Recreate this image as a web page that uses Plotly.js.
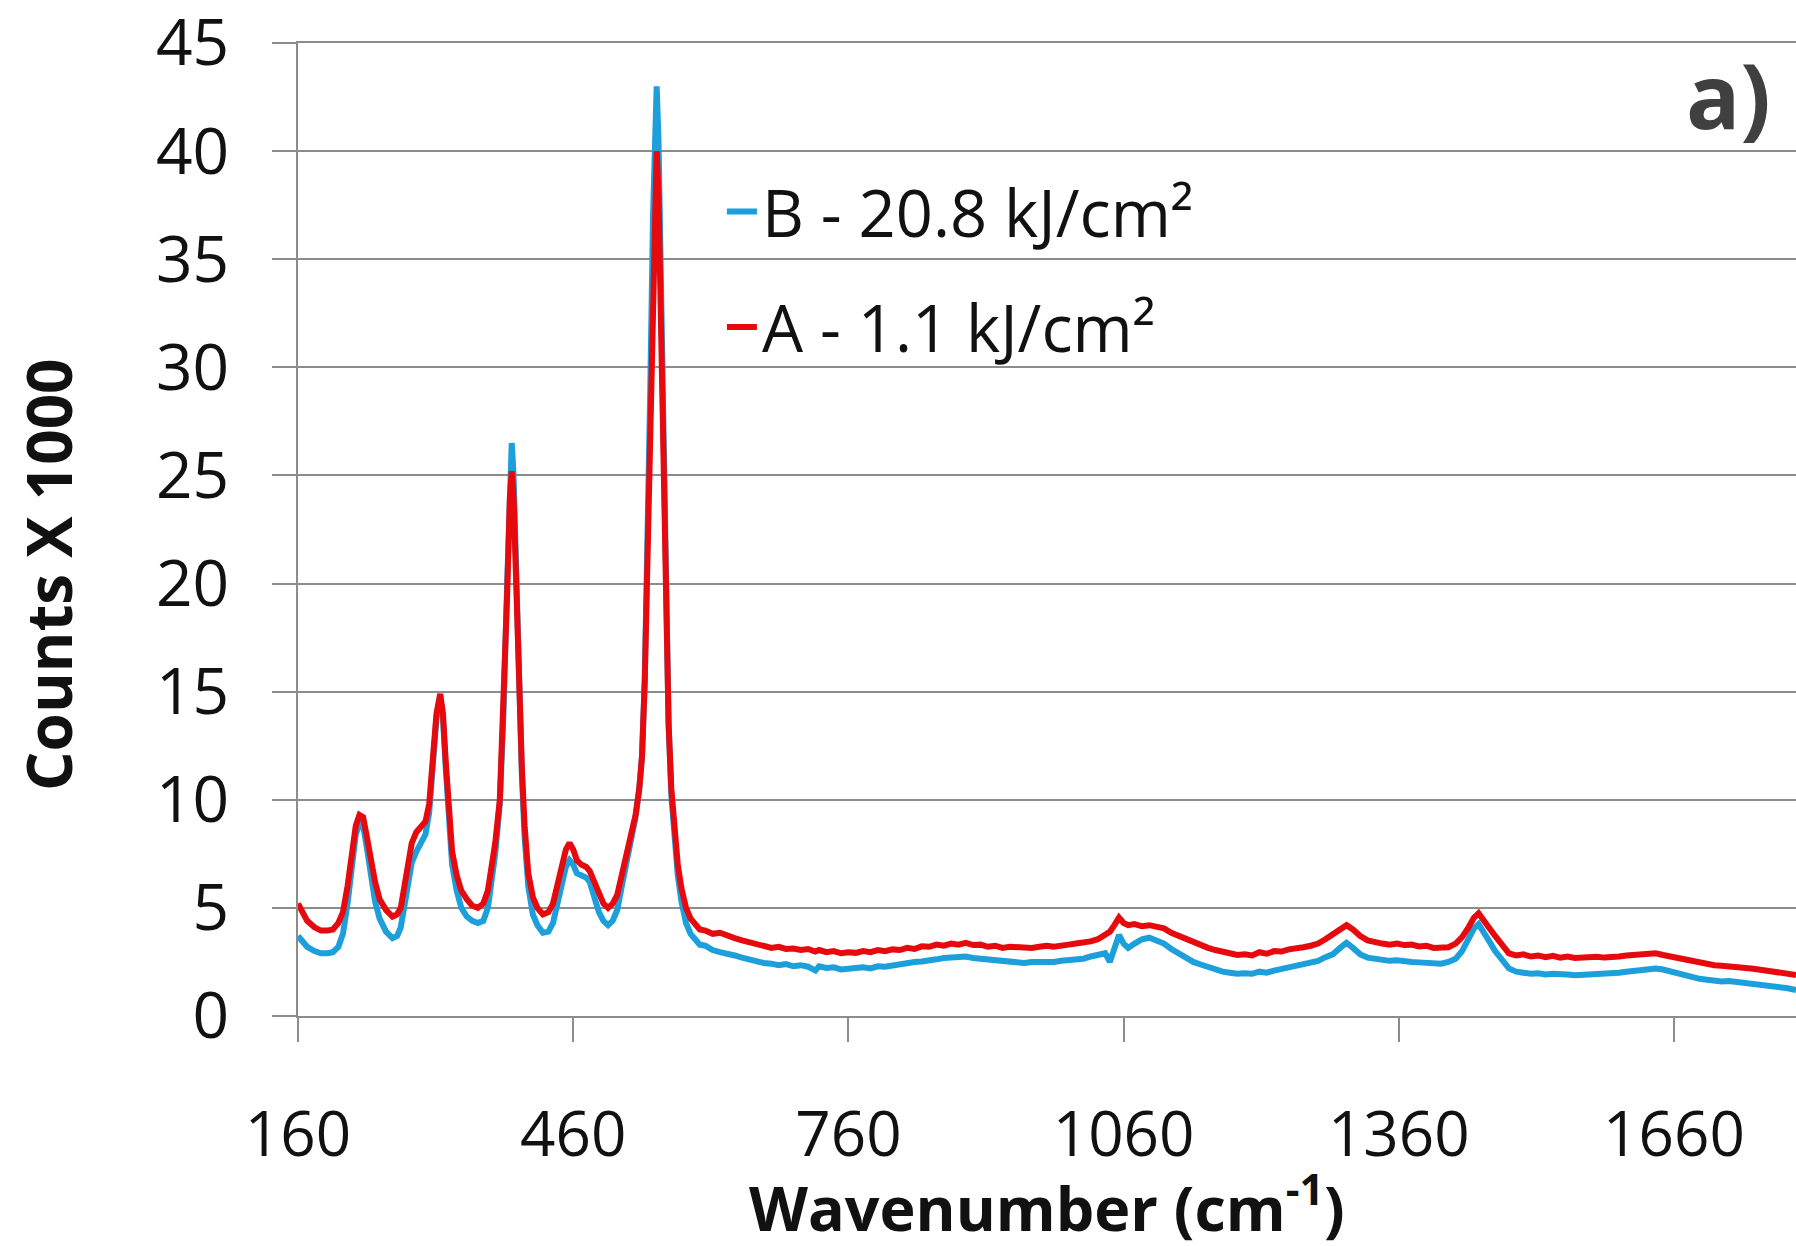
<!DOCTYPE html>
<html>
<head>
<meta charset="utf-8">
<script src="https://cdn.plot.ly/plotly-3.0.1.min.js"></script>
<style>html,body{margin:0;padding:0;background:#fff;}#chart{width:1796px;height:1246px;}</style>
</head>
<body>
<div id="chart"></div>
<script>
// Wavenumber (cm^-1)
const wavenumber = [160,165,170,178,185,192,198,204,209,214,218,223,227,231,235,239,244,249,256,263,268,272,276,280,284,289,294,299,303,307,311,315,318,321,324,328,333,338,344,350,356,362,367,371,375,380,384,388,391,393,395,398,401,404,407,411,416,421,427,433,438,443,448,452,456,460,464,469,474,478,483,488,493,498,503,508,513,518,523,528,532,535,538,541,544,547,549,551,553,555,558,561,564,567,570,574,578,583,588,593,598,
604,612,620,628,636,644,652,660,668,676,684,692,700,708,716,724,728,736,744,752,760,768,776,784,792,800,808,816,824,832,840,848,856,864,872,880,888,896,904,912,920,928,936,944,952,960,968,976,984,992,1000,1008,1016,1024,1032,1040,1045,1050,1055,1060,1065,1072,1080,1088,1096,1104,1112,1120,1128,1136,1144,1152,1160,1168,1176,1184,1192,1200,1208,1216,1224,1232,1240,1248,1256,1264,1272,1280,1288,1296,1303,1310,1318,1326,1334,1342,1350,1358,1366,1374,1382,1390,1398,1406,1414,1422,1429,1436,1442,1447,1452,1458,1465,1472,1480,1488,1496,1504,1512,1520,1528,1536,1544,1552,1560,1568,1576,1584,1592,1600,1608,1616,1624,1632,1640,1648,1656,1664,1672,1680,1688,1696,1704,1712,1720,1728,1736,1744,1752,1760,1768,1776,1784,1793];

// Series A - 1.1 kJ/cm2 (counts / 1000)
const seriesA = [5.2,4.8,4.4,4.1,3.95,3.95,4.0,4.3,4.8,6.0,7.4,8.8,9.3,9.2,8.3,7.2,6.2,5.4,4.9,4.6,4.7,5.0,6.0,7.0,8.0,8.5,8.8,9.0,9.8,11.8,14.0,14.9,14.0,11.8,9.5,7.6,6.5,5.8,5.4,5.1,5.0,5.2,5.8,6.8,8.0,10.0,14.0,19.5,24.0,25.2,24.0,19.3,15.0,11.5,8.8,6.6,5.5,5.0,4.7,4.8,5.2,6.0,7.0,7.7,8.0,7.7,7.2,7.0,6.9,6.7,6.2,5.6,5.2,5.0,5.2,5.6,6.5,7.3,8.2,9.3,10.5,12.0,15.5,21.0,28.0,35.0,38.5,40.0,38.0,33.0,25.0,18.0,13.5,10.5,8.6,7.0,5.9,5.0,4.5,4.2,4.0,
3.95,3.8,3.85,3.7,3.6,3.5,3.4,3.3,3.25,3.15,3.2,3.1,3.12,3.05,3.1,2.98,3.05,2.95,3.0,2.9,2.95,2.92,3.0,2.95,3.05,3.0,3.08,3.05,3.15,3.1,3.22,3.2,3.3,3.25,3.35,3.3,3.38,3.28,3.3,3.2,3.25,3.15,3.2,3.18,3.22,3.15,3.2,3.25,3.2,3.28,3.3,3.35,3.38,3.45,3.55,3.75,3.9,4.2,4.55,4.3,4.2,4.25,4.15,4.2,4.1,4.05,3.85,3.7,3.55,3.4,3.25,3.15,3.05,2.95,2.9,2.82,2.85,2.8,2.95,2.88,3.0,2.98,3.08,3.1,3.18,3.25,3.35,3.55,3.75,4.0,4.2,4.0,3.7,3.5,3.4,3.35,3.3,3.35,3.28,3.3,3.22,3.25,3.15,3.2,3.18,3.35,3.65,4.1,4.55,4.75,4.5,4.1,3.7,3.3,2.9,2.8,2.85,2.75,2.8,2.72,2.78,2.7,2.75,2.68,2.72,2.7,2.74,2.7,2.76,2.75,2.8,2.82,2.88,2.85,2.9,2.82,2.75,2.65,2.58,2.5,2.45,2.38,2.35,2.32,2.3,2.25,2.22,2.2,2.15,2.1,2.05,2.02,1.95,1.9];

// Series B - 20.8 kJ/cm2 (counts / 1000)
const seriesB = [3.7,3.4,3.2,3.0,2.9,2.9,2.95,3.2,3.8,5.2,6.8,8.4,8.9,8.8,7.8,6.5,5.3,4.5,3.9,3.6,3.7,4.1,5.2,6.3,7.1,7.6,8.0,8.4,9.4,11.5,13.8,14.8,13.8,11.5,9.0,7.0,5.8,5.0,4.6,4.4,4.3,4.4,5.0,6.2,7.5,9.8,14.0,20.0,25.0,26.5,25.0,19.5,15.0,11.2,8.3,6.0,4.7,4.2,3.85,3.9,4.3,5.2,6.3,6.9,7.2,7.0,6.6,6.5,6.4,6.2,5.5,4.8,4.4,4.2,4.4,4.9,6.0,7.0,8.0,9.2,10.5,12.0,15.5,21.5,29.0,37.0,41.0,43.0,40.5,35.0,26.0,18.5,13.5,10.2,8.2,6.5,5.3,4.3,3.8,3.5,3.3,
3.25,3.05,2.95,2.9,2.8,2.7,2.62,2.5,2.45,2.42,2.35,2.4,2.3,2.35,2.28,2.1,2.3,2.22,2.25,2.15,2.2,2.22,2.25,2.2,2.3,2.28,2.35,2.4,2.45,2.5,2.52,2.6,2.62,2.68,2.72,2.7,2.75,2.68,2.65,2.6,2.55,2.52,2.48,2.5,2.45,2.5,2.48,2.52,2.5,2.55,2.58,2.62,2.65,2.75,2.8,2.9,2.5,3.2,3.75,3.35,3.15,3.35,3.55,3.62,3.5,3.35,3.1,2.9,2.7,2.5,2.38,2.25,2.12,2.05,2.0,1.95,1.98,1.95,2.05,2.0,2.1,2.18,2.25,2.35,2.4,2.5,2.55,2.72,2.85,3.15,3.38,3.15,2.85,2.7,2.65,2.6,2.55,2.58,2.52,2.5,2.48,2.45,2.45,2.42,2.5,2.65,3.0,3.5,4.05,4.25,3.95,3.5,3.0,2.6,2.2,2.05,2.0,1.95,1.98,1.92,1.95,1.9,1.92,1.88,1.9,1.92,1.9,1.95,1.98,2.0,2.05,2.08,2.12,2.15,2.2,2.15,2.05,1.98,1.9,1.8,1.72,1.68,1.62,1.6,1.62,1.58,1.55,1.55,1.5,1.45,1.38,1.32,1.28,1.2];

const xTicks = [160, 460, 760, 1060, 1360, 1660];
const yTicks = [0, 5, 10, 15, 20, 25, 30, 35, 40, 45];
const nameB = 'B - 20.8 kJ/cm²';
const nameA = 'A - 1.1 kJ/cm²';

const FONT = 'Open Sans, Noto Sans, sans-serif';
const GRID = '#8c8c8c';

const traces = [
  {x: wavenumber, y: seriesB, type: 'scatter', mode: 'lines', name: nameB, legendgroup: 'b',
   line: {color: '#1c9fdb', width: 6}},
  {x: wavenumber, y: seriesA, type: 'scatter', mode: 'lines', name: nameA, legendgroup: 'a',
   line: {color: '#e60a0f', width: 6}}
];

const layout = {
  width: 1796, height: 1246,
  margin: {l: 298, r: 0, t: 43, b: 230, pad: 0},
  paper_bgcolor: '#ffffff', plot_bgcolor: '#ffffff',
  font: {family: FONT, color: '#111111'},
  showlegend: true,
  legend: {x: 0.283, xanchor: 'left', y: 0.877, yanchor: 'top',
           font: {family: FONT, size: 65, color: '#111111'},
           bgcolor: 'rgba(0,0,0,0)', tracegroupgap: 28, traceorder: 'grouped', itemwidth: 30},
  xaxis: {range: [160, 1793], tickvals: xTicks, ticktext: xTicks.map(String),
          ticks: 'outside', ticklen: 24, tickwidth: 2, tickcolor: GRID,
          showgrid: false, zeroline: false, showline: true, mirror: true,
          linecolor: GRID, linewidth: 2, ticklabelstandoff: 40, ticklabeloverflow: 'allow',
          tickfont: {family: FONT, size: 62, color: '#111111'}},
  yaxis: {range: [-0.0005, 45.0005], tickvals: yTicks, ticktext: yTicks.map(String),
          ticks: 'outside', ticklen: 24, tickwidth: 2, tickcolor: GRID,
          showgrid: true, gridcolor: GRID, gridwidth: 2, zeroline: false,
          showline: true, linecolor: GRID, linewidth: 2, ticklabelstandoff: 30,
          ticklabeloverflow: 'allow',
          tickfont: {family: FONT, size: 64, color: '#111111'}},
  annotations: [
    {text: '<b>Counts X 1000</b>', xref: 'paper', yref: 'paper', x: -0.1669, y: 0.4543,
     xanchor: 'center', yanchor: 'middle', textangle: -90, showarrow: false,
     font: {family: FONT, size: 62, color: '#111111'}},
    {text: '<b>Wavenumber (cm<sup>-1</sup>)</b>', xref: 'paper', yref: 'paper', x: 0.5, y: -0.193,
     xanchor: 'center', yanchor: 'middle', showarrow: false,
     font: {family: FONT, size: 61, color: '#111111'}},
    {text: '<b>a)</b>', xref: 'paper', yref: 'paper', x: 0.955, y: 0.948,
     xanchor: 'center', yanchor: 'middle', showarrow: false,
     font: {family: FONT, size: 90, color: '#404040'}}
  ]
};

Plotly.newPlot('chart', traces, layout, {staticPlot: true, displayModeBar: false});
</script>
</body>
</html>
